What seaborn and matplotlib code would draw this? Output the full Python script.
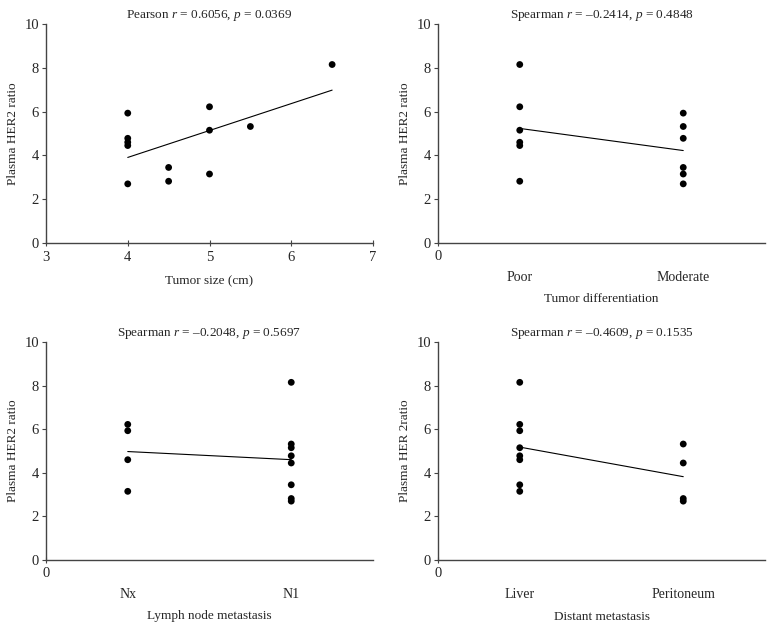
import matplotlib
matplotlib.use("Agg")
import matplotlib.pyplot as plt
import seaborn as sns
import numpy as np
import pandas as pd

sns.set_theme(style="white")
plt.rcParams['font.family'] = ['Liberation Serif', 'DejaVu Serif']
plt.rcParams['mathtext.fontset'] = 'custom'
plt.rcParams['mathtext.rm'] = 'Liberation Serif'
plt.rcParams['mathtext.it'] = 'Liberation Serif:italic'

# Panel A: tumor size
size_x = [4, 4, 4, 4, 4, 4.5, 4.5, 5, 5, 5, 5.5, 6.5]
size_y = [5.93, 4.78, 4.60, 4.45, 2.70, 3.45, 2.82, 6.22, 5.15, 3.15, 5.32, 8.15]

# Panel B: differentiation
diff_cats = ["Poor", "Moderate"]
diff_poor = [8.15, 6.22, 5.15, 4.60, 4.45, 2.82]
diff_mod = [5.93, 5.32, 4.78, 3.45, 3.15, 2.70]

# Panel C: lymph node
ln_cats = ["Nx", "N1"]
ln_nx = [6.22, 5.93, 4.60, 3.15]
ln_n1 = [8.15, 5.32, 5.15, 4.78, 4.45, 3.45, 2.82, 2.70]

# Panel D: distant metastasis
dm_cats = ["Liver", "Peritoneum"]
dm_liver = [8.15, 6.22, 5.93, 5.15, 4.78, 4.60, 3.45, 3.15]
dm_perit = [5.32, 4.45, 2.82, 2.70]

titles = [r"Pearson $r$ = 0.6056, $p$ = 0.0369",
          r"Spearman $r$ = –0.2414, $p$ = 0.4848",
          r"Spearman $r$ = –0.2048, $p$ = 0.5697",
          r"Spearman $r$ = –0.4609, $p$ = 0.1535"]
xlabels = ["Tumor size (cm)", "Tumor differentiation", "Lymph node metastasis", "Distant metastasis"]
ylabels = ["Plasma HER2 ratio", "Plasma HER2 ratio", "Plasma HER2 ratio", "Plasma HER 2ratio"]

fig = plt.figure(figsize=(7.74, 6.29), dpi=100)
rects = [
    [46/774, 1-243/629, (373-46)/774, (243-24)/629],
    [438/774, 1-243/629, (765-438)/774, (243-24)/629],
    [46/774, 1-560/629, (373-46)/774, (560-342)/629],
    [438/774, 1-560/629, (765-438)/774, (560-342)/629],
]

FS = 9.5
axcol = "#444444"
SCAT = dict(s=24, edgecolor="none", alpha=1.0)
LINE = dict(linewidth=0.8)

def style(ax, title, xl, yl):
    for s in ["top", "right"]:
        ax.spines[s].set_visible(False)
    for s in ["left", "bottom"]:
        ax.spines[s].set_color(axcol)
        ax.spines[s].set_linewidth(1.0)
    ax.set_ylim(0, 10)
    ax.set_yticks([0, 2, 4, 6, 8, 10])
    ax.tick_params(axis="y", direction="out", length=3, width=0.8, color=axcol,
                   labelsize=FS+1, pad=2, left=True)
    ax.set_title(title, fontsize=FS, pad=4)
    ax.set_ylabel(yl, fontsize=FS, labelpad=4)
    ax.set_xlabel(xl, fontsize=FS)

def cat_panel(ax, cats, g1, g2):
    df = pd.DataFrame({"x": [1]*len(g1) + [3]*len(g2), "y": g1 + g2})
    sns.regplot(data=df, x="x", y="y", ax=ax, ci=None, color="black",
                scatter_kws=SCAT, line_kws=LINE)
    ax.set_xlim(0, 4)
    ax.set_xticks([0])
    ax.set_xticklabels(["0"])
    ax.tick_params(axis="x", which="major", direction="inout", length=4, width=0.8,
                   color=axcol, labelsize=FS+1, pad=3, bottom=True)
    ax.set_xticks([1, 3], minor=True)
    ax.set_xticklabels(cats, minor=True)
    ax.tick_params(axis="x", which="minor", length=0, labelsize=FS+0.5, pad=20, bottom=True)

axes = [fig.add_axes(r) for r in rects]

# Panel A
dfa = pd.DataFrame({"x": size_x, "y": size_y})
sns.regplot(data=dfa, x="x", y="y", ax=axes[0], ci=None, color="black",
            scatter_kws=SCAT, line_kws=LINE)
axes[0].set_xlim(3, 7)
axes[0].set_xticks([3, 4, 5, 6, 7])
axes[0].tick_params(axis="x", direction="inout", length=4, width=0.8, color=axcol,
                    labelsize=FS+1, pad=4, bottom=True)

cat_panel(axes[1], diff_cats, diff_poor, diff_mod)
cat_panel(axes[2], ln_cats, ln_nx, ln_n1)
cat_panel(axes[3], dm_cats, dm_liver, dm_perit)

for ax, t, xl, yl in zip(axes, titles, xlabels, ylabels):
    style(ax, t, xl, yl)

axes[0].xaxis.labelpad = 8
for ax in axes[1:]:
    ax.xaxis.labelpad = 7

fig.savefig("out.png", dpi=100)
